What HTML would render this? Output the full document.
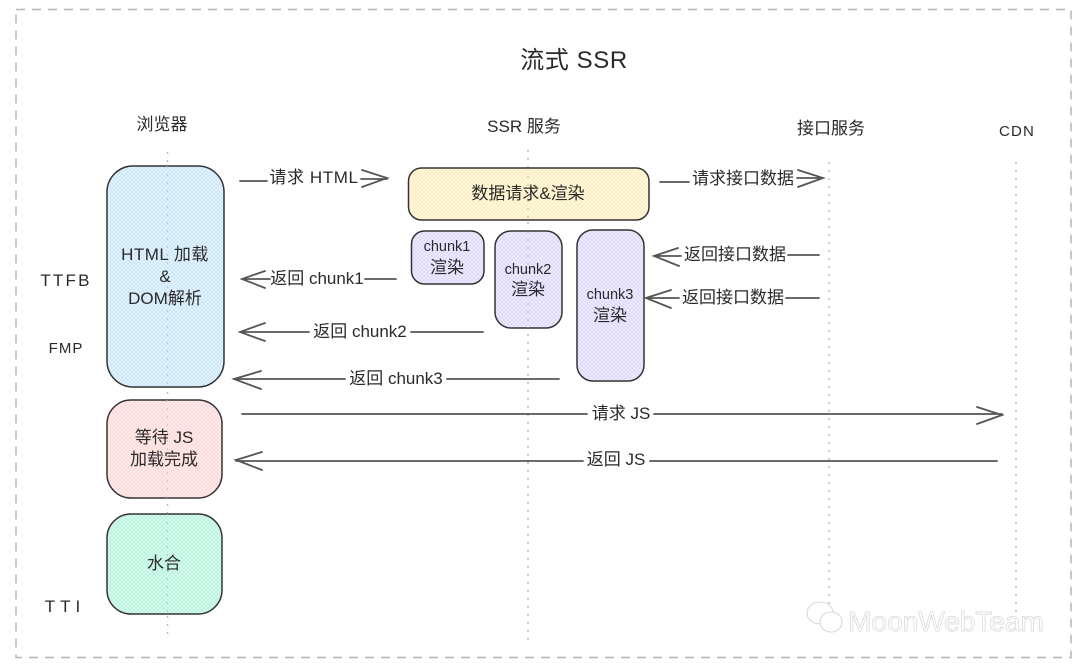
<!DOCTYPE html>
<html><head><meta charset="utf-8">
<style>
html,body{margin:0;padding:0;background:#fff}
svg{display:block}
text{font-family:"Liberation Sans","Noto Sans CJK SC",sans-serif;fill:#2a2a2a;text-anchor:middle}
.t{font-size:17px}
.l{stroke:#555;stroke-width:1.800;fill:none;stroke-linecap:round}
.h{stroke:#333;stroke-width:1.500}
.d{stroke:#bdbdbd;stroke-width:1.500;stroke-dasharray:2 6;fill:none}
</style></head><body>
<svg width="1080" height="666" viewBox="0 0 1080 666" xmlns="http://www.w3.org/2000/svg">
<defs>
<pattern id="pb" width="4" height="4" patternUnits="userSpaceOnUse"><rect width="4" height="4" fill="#edf7fe"/><path d="M0 0L4 4M4 0L0 4" stroke="#c4e4fa" stroke-width=".8"/></pattern>
<pattern id="pp" width="4" height="4" patternUnits="userSpaceOnUse"><rect width="4" height="4" fill="#fff1f1"/><path d="M0 0L4 4M4 0L0 4" stroke="#ffd4d4" stroke-width=".8"/></pattern>
<pattern id="pg" width="4" height="4" patternUnits="userSpaceOnUse"><rect width="4" height="4" fill="#e2fbf1"/><path d="M0 0L4 4M4 0L0 4" stroke="#b0f2da" stroke-width=".8"/></pattern>
<pattern id="py" width="4" height="4" patternUnits="userSpaceOnUse"><rect width="4" height="4" fill="#fffaea"/><path d="M0 0L4 4M4 0L0 4" stroke="#ffedb4" stroke-width=".8"/></pattern>
<pattern id="pv" width="4" height="4" patternUnits="userSpaceOnUse"><rect width="4" height="4" fill="#f4f2ff"/><path d="M0 0L4 4M4 0L0 4" stroke="#d9d3fb" stroke-width=".8"/></pattern>
</defs>
<rect x="16" y="9.500" width="1055" height="648" fill="none" stroke="#b5b5b5" stroke-width="1.500" stroke-dasharray="9 7"/>
<text x="574" y="68" font-size="24" letter-spacing=".6">流式 SSR</text>
<text class="t" x="162" y="130">浏览器</text>
<text class="t" x="524" y="132">SSR 服务</text>
<text class="t" x="831" y="134">接口服务</text>
<text x="1017" y="136" font-size="15" letter-spacing="1.200">CDN</text>

<path class="d" d="M167.500 152V640M528 150V640M829 162V612M1016 162V616"/>

<rect class="h" x="107" y="166" width="117" height="221" rx="26" fill="url(#pb)"/>
<rect class="h" x="107" y="400" width="115" height="98" rx="24" fill="url(#pp)"/>
<rect class="h" x="107" y="514" width="115" height="100" rx="24" fill="url(#pg)"/>
<rect class="h" x="408.500" y="168" width="240.500" height="52" rx="13" fill="url(#py)"/>
<rect class="h" x="411.500" y="231" width="72.500" height="53" rx="13" fill="url(#pv)"/>
<rect class="h" x="495" y="231" width="67" height="97" rx="16" fill="url(#pv)"/>
<rect class="h" x="577" y="230" width="67" height="151" rx="16" fill="url(#pv)"/>
<path d="M167.500 166V387M167.500 400V498M167.500 514V614" stroke="#bbb" stroke-width="1.200" stroke-dasharray="2 6" opacity=".7"/>
<path d="M528 168V220M528 231V328" stroke="#aaa" stroke-width="1.200" stroke-dasharray="2 6" opacity=".7"/>

<g>
<text class="t" x="165" y="260" letter-spacing=".5">HTML 加载</text>
<text class="t" x="165" y="282">&amp;</text>
<text class="t" x="165" y="304">DOM解析</text>
<text class="t" x="164" y="443">等待 JS</text>
<text class="t" x="164" y="465">加载完成</text>
<text class="t" x="164" y="569">水合</text>
<text class="t" x="528" y="199">数据请求&amp;渲染</text>
<text x="447" y="251" font-size="14.500">chunk1</text>
<text class="t" x="447" y="273">渲染</text>
<text x="528" y="274" font-size="14.500">chunk2</text>
<text class="t" x="528" y="295">渲染</text>
<text x="610" y="299" font-size="14.500">chunk3</text>
<text class="t" x="610" y="321">渲染</text>
<text x="66" y="286" font-size="17" letter-spacing="2.200">TTFB</text>
<text x="66" y="353" font-size="15" letter-spacing="1">FMP</text>
<text x="65" y="612" font-size="17" letter-spacing="5">TTI</text>
</g>

<path class="l" d="M240 181H267M361 179H387M362 170L387 178L362 187"/>
<text class="t" x="314" y="183" letter-spacing=".6">请求 HTML</text>
<path class="l" d="M660 182H689M797 178H823M798 170L823 178L798 187"/>
<text class="t" x="743" y="184">请求接口数据</text>
<path class="l" d="M788 255H819M654 256H681M678 248L654 256L679 266"/>
<text class="t" x="735" y="260">返回接口数据</text>
<path class="l" d="M786 298H819M646 298H679M671 290L646 298L671 308"/>
<text class="t" x="733" y="303">返回接口数据</text>
<path class="l" d="M242 279H270M365 279H396M265 271L242 279L265 288"/>
<text class="t" x="317" y="284">返回 chunk1</text>
<path class="l" d="M240 332H309M411 332H483M265 323L240 332L265 341"/>
<text class="t" x="360" y="337">返回 chunk2</text>
<path class="l" d="M234 379H345M447 379H559M261 371L234 379L261 389"/>
<text class="t" x="396" y="384">返回 chunk3</text>
<path class="l" d="M242 414H587M654 414H1002M977 407L1002 415L977 424"/>
<text class="t" x="621" y="419">请求 JS</text>
<path class="l" d="M236 461H583M650 461H997M262 452L236 460L262 470"/>
<text class="t" x="616" y="465">返回 JS</text>

<g fill="#fff" stroke="#d6d6d6" stroke-width="1">
<ellipse cx="820" cy="613" rx="13" ry="11"/>
<ellipse cx="831" cy="622" rx="11" ry="10"/>
</g>
<text x="946" y="631" font-size="28" style="fill:#fff;stroke:#d6d6d6;stroke-width:.7">MoonWebTeam</text>
</svg>
</body></html>
